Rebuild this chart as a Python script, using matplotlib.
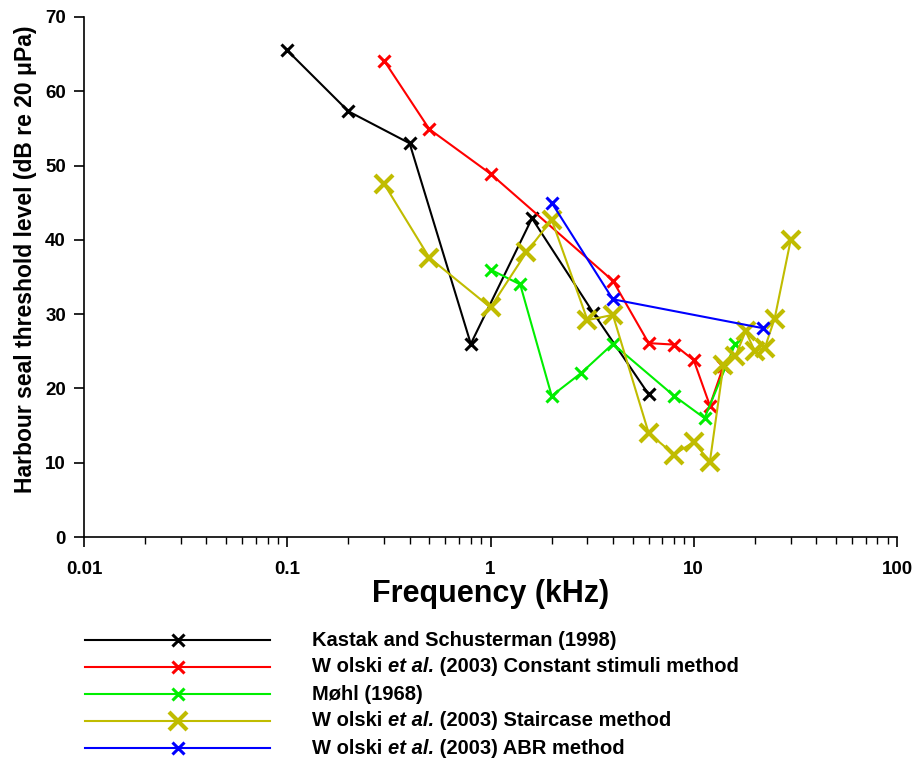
import matplotlib.pyplot as plt
from matplotlib.lines import Line2D
from matplotlib.ticker import FixedLocator, LogLocator, NullFormatter

plt.rcParams['font.family'] = ['Liberation Sans', 'DejaVu Sans']
plt.rcParams['font.weight'] = 'bold'

# data (frequency in kHz, threshold in dB re 20 uPa)
kastak_f = [0.1, 0.2, 0.4, 0.8, 1.6, 3.2, 6.0]
kastak_db = [65.5, 57.3, 53.0, 26.0, 42.9, 30.2, 19.2]

wolski_cs_f = [0.3, 0.5, 1.0, 4.0, 6.0, 8.0, 10.0, 12.0, 14.0]
wolski_cs_db = [64.1, 54.9, 48.9, 34.5, 26.1, 25.9, 23.8, 17.7, 23.0]

mohl_f = [1.0, 1.4, 2.0, 2.8, 4.0, 8.0, 11.3, 16.0]
mohl_db = [36.0, 34.0, 19.0, 22.1, 26.0, 19.0, 16.0, 26.0]

wolski_sc_f = [0.3, 0.5, 1.0, 1.5, 2.0, 3.0, 4.0, 6.0, 8.0, 10.0, 12.0,
               14.0, 16.0, 18.0, 20.0, 22.4, 25.0, 30.0]
wolski_sc_db = [47.5, 37.6, 30.9, 38.3, 42.7, 29.2, 29.9, 14.0, 11.1, 12.8,
                10.1, 23.1, 24.3, 27.7, 25.0, 25.5, 29.4, 40.0]

wolski_abr_f = [2.0, 4.0, 22.0]
wolski_abr_db = [45.0, 32.0, 28.1]

labels = ['Kastak and Schusterman (1998)',
          ('W olski ', 'et al.', ' (2003) Constant stimuli method'),
          'M\u00f8hl (1968)',
          ('W olski ', 'et al.', ' (2003) Staircase method'),
          ('W olski ', 'et al.', ' (2003) ABR method')]

yellow = '#c0bc00'
series = [
    (kastak_f, kastak_db, 'black', 9, 2.2),
    (wolski_cs_f, wolski_cs_db, '#ff0000', 9, 2.2),
    (mohl_f, mohl_db, '#00ee00', 9, 2.2),
    (wolski_sc_f, wolski_sc_db, yellow, 13, 3.0),
    (wolski_abr_f, wolski_abr_db, '#0000ff', 9, 2.2),
]

fig = plt.figure(figsize=(9.17, 7.62), dpi=100)
ax = fig.add_axes([84 / 917, 1 - 537 / 762, 813 / 917, 520 / 762])

for f, db, c, ms, mew in series:
    ax.plot(f, db, color=c, lw=1.5, marker='x', ms=ms, mew=mew, clip_on=False)

ax.set_xscale('log')
ax.set_xlim(0.01, 100)
ax.set_ylim(0, 70)
ax.set_yticks(range(0, 71, 10))
ax.xaxis.set_major_locator(FixedLocator([0.01, 0.1, 1, 10, 100]))
ax.xaxis.set_minor_locator(LogLocator(base=10, subs=range(2, 10)))
ax.xaxis.set_minor_formatter(NullFormatter())
ax.set_xticklabels(['0.01', '0.1', '1', '10', '100'])
ax.tick_params(axis='both', which='major', direction='out', length=7,
               width=1.2, labelsize=13.5)
ax.tick_params(axis='x', which='major', pad=10)
ax.tick_params(axis='y', which='major', pad=6)
ax.tick_params(axis='x', which='minor', direction='out', length=5, width=1.0)
for lab in ax.get_xticklabels() + ax.get_yticklabels():
    lab.set_fontweight('bold')
for s in ['top', 'right']:
    ax.spines[s].set_visible(False)
for s in ['left', 'bottom']:
    ax.spines[s].set_linewidth(1.2)

ax.set_xlabel('Frequency (kHz)', fontsize=22, fontweight='bold', labelpad=1)
ax.set_ylabel('Harbour seal threshold level (dB re 20 \u03bcPa)', fontsize=16.5,
              fontweight='bold')
ax.yaxis.set_label_coords(-0.058, 0.535)

# legend drawn by hand: long line with marker in the middle, text to the right
W, H = 917, 762
rows = [640, 667, 694, 721, 748]
fs = 14.5
for (f, db, c, ms, mew), lab, yy in zip(series, labels, rows):
    yf = 1 - yy / H
    fig.add_artist(Line2D([85 / W, 270 / W], [yf, yf], color=c, lw=1.5))
    fig.add_artist(Line2D([178 / W], [yf], color=c, marker='x', ms=ms, mew=mew))
    if isinstance(lab, str):
        lab = (lab, '', '')
    t1 = fig.text(312 / W, yf, lab[0], fontsize=fs, fontweight='bold',
                  va='center')
    t2 = plt.annotate(lab[1], xy=(1, 0), xycoords=t1, va='bottom',
                      fontsize=fs, fontweight='bold', fontstyle='italic',
                      annotation_clip=False)
    plt.annotate(lab[2], xy=(1, 0), xycoords=t2, va='bottom',
                 fontsize=fs, fontweight='bold', annotation_clip=False)

fig.savefig('out.png', dpi=100)
